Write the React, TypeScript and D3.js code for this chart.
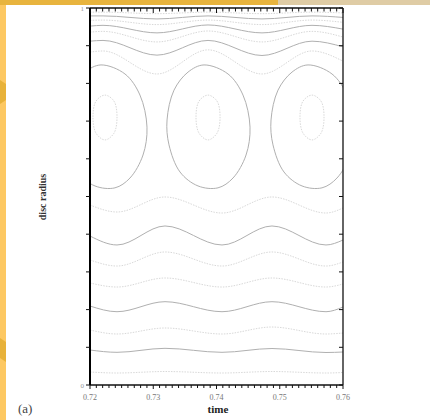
import React from "react";
import * as d3 from "d3";

// ---- data ----
const timeDomain = [0.72, 0.76];
const radiusDomain = [0, 1];
const xTickLabels = ["0.72", "0.73", "0.74", "0.75", "0.76"];
const yTickLabels = ["0", "1"];

// sample times for the wavy contours above the eyes
const upperTimes = [0.72, 0.72206, 0.73059, 0.73866, 0.74719, 0.7551, 0.76];
const upperLines = [
  { dashed: true, r: [0.989, 0.989, 0.985, 0.989, 0.985, 0.989, 0.987] },
  { dashed: false, r: [0.979, 0.979, 0.971, 0.979, 0.971, 0.979, 0.975] },
  { dashed: true, r: [0.967, 0.968, 0.956, 0.968, 0.956, 0.968, 0.962] },
  { dashed: false, r: [0.952, 0.954, 0.934, 0.955, 0.934, 0.954, 0.944] },
  { dashed: true, r: [0.936, 0.938, 0.91, 0.939, 0.91, 0.938, 0.923] },
  { dashed: false, r: [0.912, 0.914, 0.875, 0.914, 0.874, 0.912, 0.897] },
  { dashed: true, r: [0.883, 0.886, 0.825, 0.889, 0.825, 0.886, 0.859] },
];

// sample times for the wavy contours below the eyes
const lowerTimes = [0.72, 0.72427, 0.73186, 0.74087, 0.74877, 0.75731, 0.76];
const lowerLines = [
  { dashed: true, r: [0.4775, 0.4589, 0.4987, 0.4562, 0.4987, 0.4562, 0.4695] },
  { dashed: false, r: [0.3952, 0.3714, 0.4218, 0.3714, 0.4218, 0.3714, 0.3846] },
  { dashed: true, r: [0.3316, 0.3156, 0.3528, 0.3156, 0.3528, 0.3156, 0.3263] },
  { dashed: true, r: [0.2706, 0.2599, 0.2838, 0.2599, 0.2838, 0.2599, 0.2679] },
  { dashed: false, r: [0.2095, 0.1944, 0.221, 0.1944, 0.221, 0.1944, 0.2069] },
  { dashed: true, r: [0.1459, 0.1353, 0.1512, 0.1353, 0.1538, 0.1353, 0.1379] },
  { dashed: false, r: [0.0928, 0.0867, 0.0973, 0.0867, 0.0968, 0.0862, 0.0875] },
  { dashed: true, r: [0.0345, 0.0318, 0.0358, 0.0318, 0.0358, 0.0318, 0.0332] },
];

// closed "cat's eye" contours
const eyeCenters = [0.72237, 0.73866, 0.7551];
const eyeOuterDt = [-0.00063, 0.00316, 0.00553, 0.00664, 0.00601, 0.00395, 0.00158, -0.00158, -0.00443, -0.00617, -0.00648, -0.00538, -0.00316];
const eyeOuterR = [0.849, 0.825, 0.769, 0.684, 0.61, 0.549, 0.523, 0.528, 0.565, 0.637, 0.703, 0.782, 0.83];
const eyeInnerDt = [0, 0.00142, 0.0019, 0.00142, 0, -0.00142, -0.0019, -0.00142];
const eyeInnerR = [0.769, 0.753, 0.711, 0.668, 0.65, 0.668, 0.711, 0.753];

// ---- layout ----
const W = 430;
const H = 420;
const M = { left: 90, right: 343, top: 8, bottom: 385 };

export default function App() {
  const x = d3.scaleLinear().domain(timeDomain).range([M.left, M.right]);
  const y = d3.scaleLinear().domain(radiusDomain).range([M.bottom, M.top]);

  const wave = d3
    .line<[number, number]>()
    .x((d) => x(d[0]))
    .y((d) => y(d[1]))
    .curve(d3.curveMonotoneX);
  const closed = d3
    .line<[number, number]>()
    .x((d) => x(d[0]))
    .y((d) => y(d[1]))
    .curve(d3.curveCatmullRomClosed.alpha(0.5));

  const solidStyle = { stroke: "#b0b0b0", strokeWidth: 1, fill: "none" };
  const dashStyle = { stroke: "#d4d4d4", strokeWidth: 0.9, fill: "none", strokeDasharray: "1.5,1.2" };

  const minorTicks = d3.range(0, 41).map((i) => timeDomain[0] + i * 0.001);
  const majorTicks = xTickLabels.map(Number);
  const yTicks = d3.range(0, 11).map((i) => i / 10);

  return (
    <svg width={W} height={H} style={{ position: "absolute", left: 0, top: 0, background: "#fff" }}>
      {/* page decoration */}
      <rect x={0} y={0} width={W} height={H} fill="#fff" />
      <rect x={0} y={0} width={278} height={5} fill="#e8b43e" />
      <rect x={278} y={0} width={W - 278} height={5} fill="#dfcca5" />
      <rect x={0} y={5} width={6} height={H - 5} fill="#fdc862" />
      <polygon points="0,80 6,84 6,100 0,104" fill="#e8b23a" />
      <polygon points="0,338 6,342 6,362 0,358" fill="#e8b23a" />

      <defs>
        <clipPath id="plotClip">
          <rect x={M.left} y={M.top} width={M.right - M.left} height={M.bottom - M.top} />
        </clipPath>
      </defs>

      <g clipPath="url(#plotClip)">
        {upperLines.map((l, i) => (
          <path
            key={"u" + i}
            d={wave(upperTimes.map((t, j) => [t, l.r[j]] as [number, number])) || ""}
            {...(l.dashed ? dashStyle : solidStyle)}
          />
        ))}
        {lowerLines.map((l, i) => (
          <path
            key={"l" + i}
            d={wave(lowerTimes.map((t, j) => [t, l.r[j]] as [number, number])) || ""}
            {...(l.dashed ? dashStyle : solidStyle)}
          />
        ))}
        {eyeCenters.map((c, i) => (
          <g key={"e" + i}>
            <path
              d={closed(eyeOuterDt.map((dt, j) => [c + dt, eyeOuterR[j]] as [number, number])) || ""}
              {...solidStyle}
            />
            <path
              d={closed(eyeInnerDt.map((dt, j) => [c + dt, eyeInnerR[j]] as [number, number])) || ""}
              {...dashStyle}
            />
          </g>
        ))}
      </g>

      {/* frame */}
      <line x1={M.left} x2={M.right} y1={M.top} y2={M.top} stroke="#111" strokeWidth={1.3} />
      <line x1={M.left} x2={M.right} y1={M.bottom} y2={M.bottom} stroke="#111" strokeWidth={1.3} />
      <line x1={M.right} x2={M.right} y1={M.top} y2={M.bottom} stroke="#111" strokeWidth={1.3} />
      <line x1={M.left} x2={M.left} y1={M.top} y2={M.bottom} stroke="#000" strokeWidth={2} />

      {/* x ticks */}
      {minorTicks.map((t, i) => {
        const major = i % 10 === 0;
        return (
          <g key={"xt" + i}>
            <line x1={x(t)} x2={x(t)} y1={M.top} y2={M.top + (major ? 5 : 3.5)} stroke="#111" strokeWidth={1} />
            <line x1={x(t)} x2={x(t)} y1={M.bottom} y2={M.bottom + (major ? 4 : 3)} stroke="#111" strokeWidth={1} />
          </g>
        );
      })}
      {/* y ticks */}
      {yTicks.map((r, i) => (
        <g key={"yt" + i}>
          <line x1={M.left - 4} x2={M.left} y1={y(r)} y2={y(r)} stroke="#111" strokeWidth={1} />
          <line x1={M.right - 4} x2={M.right} y1={y(r)} y2={y(r)} stroke="#111" strokeWidth={1} />
        </g>
      ))}

      {/* tick labels */}
      {majorTicks.map((t, i) => (
        <text key={"xl" + i} x={x(t)} y={400} textAnchor="middle" fontFamily="Liberation Serif, serif" fontSize={8} fill="#777">
          {xTickLabels[i]}
        </text>
      ))}
      {yTickLabels.map((lab) => (
        <text key={"yl" + lab} x={M.left - 6} y={y(Number(lab)) + 2.5} textAnchor="end" fontFamily="Liberation Serif, serif" fontSize={7} fill="#999">
          {lab}
        </text>
      ))}

      {/* axis titles */}
      <text x={218} y={413} textAnchor="middle" fontFamily="Liberation Serif, serif" fontWeight="bold" fontSize={11} fill="#222">
        time
      </text>
      <text
        transform="translate(46,197) rotate(-90)"
        textAnchor="middle"
        fontFamily="Liberation Serif, serif"
        fontWeight="bold"
        fontSize={10}
        fill="#333"
      >
        disc radius
      </text>
      <text x={18} y={413} fontFamily="Liberation Serif, serif" fontSize={13} fill="#444">
        (a)
      </text>
    </svg>
  );
}
